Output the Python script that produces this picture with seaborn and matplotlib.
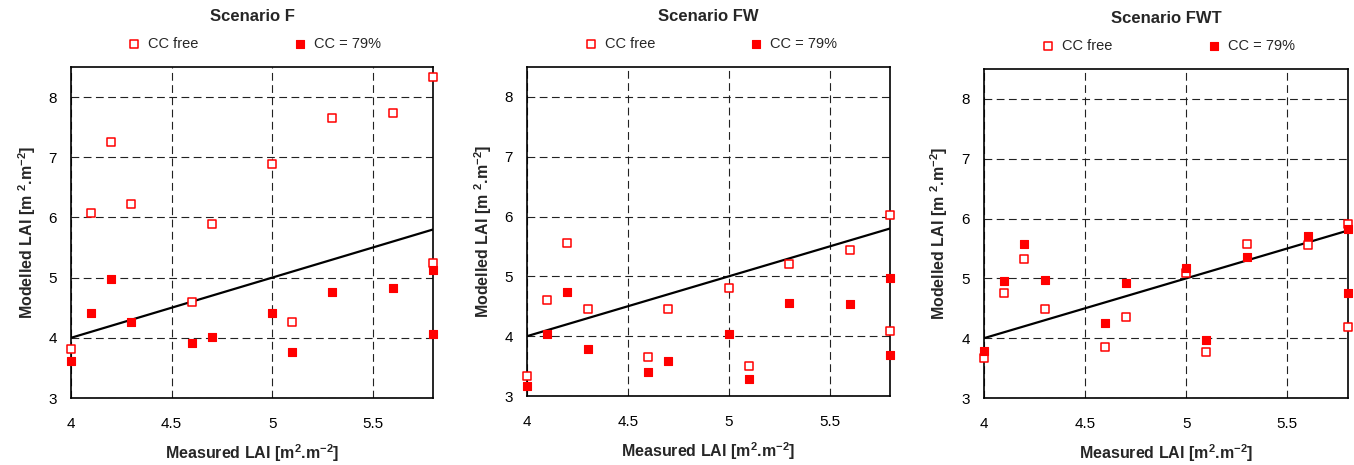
import pandas as pd
import matplotlib.pyplot as plt
import seaborn as sns

measured = [4.0, 4.1, 4.2, 4.3, 4.6, 4.7, 5.0, 5.1, 5.3, 5.6, 5.8, 5.8]

scenarios = ["Scenario F", "Scenario FW", "Scenario FWT"]

f_free = [3.82, 6.08, 7.26, 6.23, 4.59, 5.89, 6.88, 4.27, 7.65, 7.74, 8.34, 5.24]
f_cc79 = [3.61, 4.42, 4.97, 4.27, 3.91, 4.02, 4.42, 3.76, 4.76, 4.82, 5.13, 4.06]

fw_free = [3.33, 4.61, 5.56, 4.46, 3.66, 4.46, 4.80, 3.50, 5.20, 5.44, 6.02, 4.08]
fw_cc79 = [3.16, 4.03, 4.74, 3.79, 3.40, 3.59, 4.03, 3.29, 4.55, 4.53, 4.97, 3.69]

fwt_free = [3.67, 4.76, 5.33, 4.49, 3.86, 4.36, 5.09, 3.77, 5.58, 5.56, 5.91, 4.18]
fwt_cc79 = [3.79, 4.95, 5.58, 4.97, 4.26, 4.93, 5.17, 3.97, 5.35, 5.71, 5.83, 4.76]

one_to_one = [4.0, 5.8]

sns.set_style("white")
plt.rcParams["font.family"] = ["Liberation Sans", "DejaVu Sans"]
plt.rcParams["mathtext.default"] = "regular"

fig = plt.figure(figsize=(13.54, 4.65), dpi=100)
positions = [
    [71 / 1354, 1 - 398 / 465, 362 / 1354, 331 / 465],
    [527 / 1354, 1 - 396 / 465, 363 / 1354, 329 / 465],
    [984 / 1354, 1 - 398 / 465, 364 / 1354, 329 / 465],
]

series = [(f_free, f_cc79), (fw_free, fw_cc79), (fwt_free, fwt_cc79)]

for pos, title, (free, cc79) in zip(positions, scenarios, series):
    ax = fig.add_axes(pos)
    df = pd.DataFrame({"measured": measured, "free": free, "cc79": cc79})

    ax.plot(one_to_one, one_to_one, color="black", lw=1.6, zorder=2)
    sns.scatterplot(data=df, x="measured", y="free", marker="s", s=38,
                    facecolor="white", edgecolor="red", linewidth=1.1,
                    label="CC free", ax=ax, zorder=3, clip_on=False)
    sns.scatterplot(data=df, x="measured", y="cc79", marker="s", s=38,
                    color="red", edgecolor="red", linewidth=0.8,
                    label="CC = 79%", ax=ax, zorder=4, clip_on=False)

    ax.set_xlim(4, 5.8)
    ax.set_ylim(3, 8.5)
    ax.set_xticks([4, 4.5, 5, 5.5])
    ax.set_xticklabels(["4", "4.5", "5", "5.5"])
    ax.set_yticks([3, 4, 5, 6, 7, 8])
    ax.tick_params(axis="both", length=0, labelsize=11, colors="black")
    ax.tick_params(axis="x", pad=14)
    ax.tick_params(axis="y", pad=10)
    ax.grid(True, color="#222222", linestyle=(0, (7, 4)), linewidth=0.8)
    for sp in ax.spines.values():
        sp.set_visible(True)
        sp.set_color("black")
        sp.set_linewidth(1.2)

    ax.set_xlabel("Measured LAI [m$^{2}$.m$^{-2}$]", fontsize=11.5,
                  fontweight="bold", labelpad=8)
    ax.set_ylabel("Modelled LAI [m $^{2}$.m$^{-2}$]", fontsize=11.5,
                  fontweight="bold", labelpad=8)
    ax.set_title(title, fontsize=12, fontweight="bold", pad=33)
    ax.legend(loc="lower center", bbox_to_anchor=(0.5, 1.01), ncol=2,
              frameon=False, fontsize=10.5, handletextpad=0.2,
              handlelength=1.5, columnspacing=6.2, markerscale=1.0)

fig.savefig("out.png", dpi=100)
